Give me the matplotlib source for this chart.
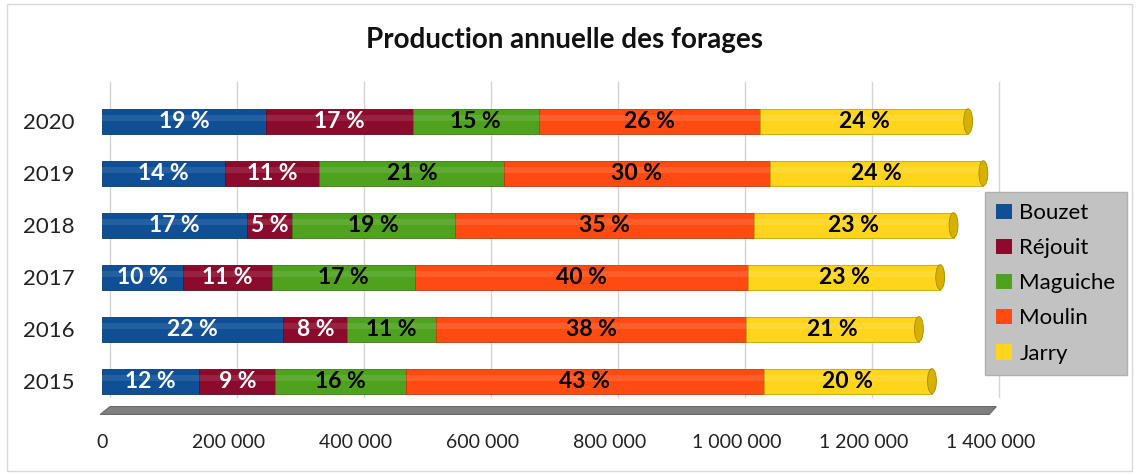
import numpy as np
import matplotlib
matplotlib.use("Agg")
import matplotlib.pyplot as plt
from matplotlib.patches import Polygon, Ellipse, Patch

plt.rcParams['font.family'] = ['Lato', 'DejaVu Sans']

# === DATA (m3 per year) ===
years = ["2015", "2016", "2017", "2018", "2019", "2020"]
forages = ["Bouzet", "Réjouit", "Maguiche", "Moulin", "Jarry"]
bouzet   = [153000, 285500, 128000, 228000, 194000, 259000]
rejouit  = [120000, 101000, 139000,  71000, 148500, 230000]
maguiche = [205000, 139000, 226000, 257000, 291000, 199000]
moulin   = [564000, 489000, 525000, 471000, 418000, 348000]
jarry    = [265000, 272000, 302000, 314000, 336500, 328000]
# percentage labels as printed on the bars
pct_bouzet   = [12, 22, 10, 17, 14, 19]
pct_rejouit  = [9, 8, 11, 5, 11, 17]
pct_maguiche = [16, 11, 17, 19, 21, 15]
pct_moulin   = [43, 38, 40, 35, 30, 26]
pct_jarry    = [20, 21, 23, 23, 24, 24]
xticks = [0, 200000, 400000, 600000, 800000, 1000000, 1200000, 1400000]
xtick_labels = ["0", "200 000", "400 000", "600 000", "800 000",
                "1 000 000", "1 200 000", "1 400 000"]

colors = ["#0f4f96", "#8c0b2c", "#4fa21e", "#ff4b12", "#ffd51c"]
edges = ["#0a3a70", "#650720", "#3a7a14", "#c8380a", "#c9a300"]
text_colors = ["white", "white", "black", "black", "black"]

series = [bouzet, rejouit, maguiche, moulin, jarry]
pcts = [pct_bouzet, pct_rejouit, pct_maguiche, pct_moulin, pct_jarry]

W, H = 1136, 475
fig = plt.figure(figsize=(W / 100, H / 100), dpi=100)
fig.patch.set_facecolor("white")

# axes: x from 0 at px 102 to 1.4M at px 991, y from px 90 to 405
ax = fig.add_axes([102 / W, 1 - 405 / H, 889 / W, 315 / H])
ax.set_xlim(0, 1400000)
ax.set_ylim(-0.46, 5.6)
ax.set_facecolor("none")
for s in ax.spines.values():
    s.set_visible(False)

# back-wall gridlines, shifted a little to the right (3D look)
shift = 12600
for xv in xticks:
    ax.plot([xv + shift, xv + shift], [-0.3, 5.75], color="#d4d4d4",
            lw=1, zorder=0, clip_on=False)

# floor slab
floor = Polygon([[0.009, -0.005], [1.006, -0.005], [0.998, -0.03], [-0.002, -0.03]],
                closed=True, transform=ax.transAxes, facecolor="#7f7f7f",
                edgecolor="#6a6a6a", lw=0.8, clip_on=False, zorder=1)
ax.add_patch(floor)

y = np.arange(len(years))
bar_h = 0.48
left = np.zeros(len(years))
for i, (vals, pc) in enumerate(zip(series, pcts)):
    vals = np.array(vals, dtype=float)
    ax.barh(y, vals, left=left, height=bar_h, color=colors[i],
            edgecolor=edges[i], linewidth=0.6, zorder=3)
    # soft highlight to suggest a cylinder
    ax.barh(y + bar_h * 0.12, vals, left=left, height=bar_h * 0.22,
            color="white", alpha=0.10, linewidth=0, zorder=4)
    for j in range(len(years)):
        ax.text(left[j] + vals[j] / 2, y[j], f"{pc[j]} %", ha="center",
                va="center", fontsize=16.5, fontweight="bold",
                color=text_colors[i], zorder=6)
    left = left + vals

# cylinder end caps at the right end of every bar
for j in range(len(years)):
    cap = Ellipse((left[j], y[j]), width=14000, height=bar_h,
                  facecolor="#d8b100", edgecolor="#a88a00", lw=0.6, zorder=5)
    ax.add_patch(cap)

ax.set_yticks(y)
ax.set_yticklabels(years, fontsize=16, color="#222222")
ax.set_xticks(xticks)
ax.set_xticklabels(xtick_labels, fontsize=14, color="#222222")
ax.tick_params(axis="both", length=0)
ax.tick_params(axis="x", pad=21)
ax.tick_params(axis="y", pad=20)

fig.text(565 / W, 1 - 40 / H, "Production annuelle des forages",
         ha="center", va="center", fontsize=20, fontweight="bold", color="#111111")

handles = [Patch(facecolor=c, edgecolor="none") for c in colors]
leg = fig.legend(handles, forages, loc="upper left",
                 bbox_to_anchor=(985 / W, 1 - 192 / H), fontsize=16,
                 frameon=True, fancybox=False, handlelength=0.7,
                 handleheight=0.7, handletextpad=0.35, labelspacing=0.68,
                 borderpad=0.5, borderaxespad=0)
leg.get_frame().set_facecolor("#c2c2c2")
leg.get_frame().set_edgecolor("#b0b0b0")
leg.get_frame().set_alpha(1)

# light outer border of the chart
border = plt.Rectangle((7 / W, 4 / H), 1 - 11 / W, 1 - 8 / H, transform=fig.transFigure,
                       fill=False, edgecolor="#d9d9d9", lw=1)
fig.patches.append(border)

fig.savefig("out.png", dpi=100)
